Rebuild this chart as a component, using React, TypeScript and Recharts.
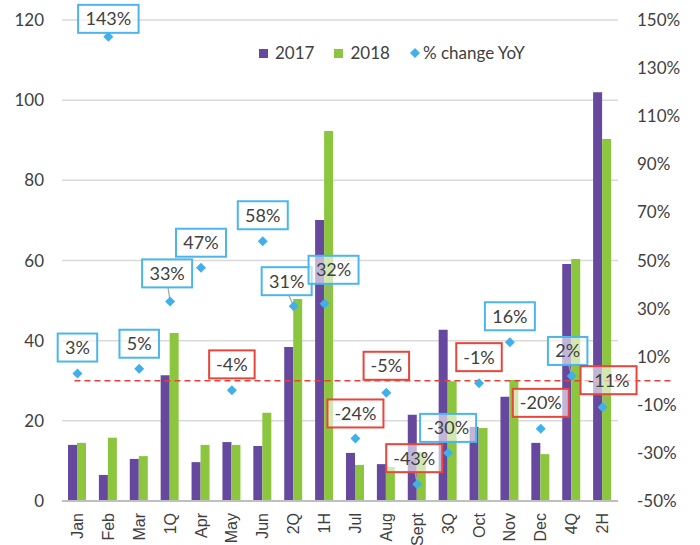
import React from "react";
import {
  ComposedChart,
  Bar,
  Scatter,
  XAxis,
  YAxis,
  CartesianGrid,
  ReferenceLine,
} from "recharts";

const CATEGORIES = ["Jan", "Feb", "Mar", "1Q", "Apr", "May", "Jun", "2Q", "1H", "Jul", "Aug", "Sept", "3Q", "Oct", "Nov", "Dec", "4Q", "2H"];
const SALES_2017 = [14.0, 6.5, 10.5, 31.4, 9.7, 14.7, 13.7, 38.4, 70.1, 12.0, 9.2, 21.5, 42.7, 18.5, 26.0, 14.5, 59.1, 102.0];
const SALES_2018 = [14.5, 15.8, 11.2, 41.9, 14.0, 14.0, 22.0, 50.4, 92.3, 9.0, 8.5, 12.2, 29.9, 18.2, 30.2, 11.7, 60.4, 90.3];
const YOY_CHANGE = [3, 143, 5, 33, 47, -4, 58, 31, 32, -24, -5, -43, -30, -1, 16, -20, 2, -11];
const LEFT_TICKS = [0, 20, 40, 60, 80, 100, 120];
const RIGHT_TICKS = [-50, -30, -10, 10, 30, 50, 70, 90, 110, 130, 150];

// label box nudges (box centre relative to the diamond), as moved by hand in the original
const LABEL_NUDGE: [number, number][] = [
  [0, -26], [0, -18], [0, -25], [-3, -28], [0, -25], [0, -26], [0, -26], [-7, -25], [9, -34],
  [0, -25], [0, -27], [-3, -26], [0, -25], [0, -26], [0, -26], [0, -26], [-4, -25], [6, -27],
];
const LEADER = new Set(["1Q", "2Q", "1H", "Sept", "4Q", "2H"]);
const BLUE_BOX = new Set(["3Q"]);

const PURPLE = "#66499e";
const GREEN = "#8cc63f";
const DIAMOND = "#41b0ea";
const BOX_BLUE = "#4cb6ec";
const BOX_RED = "#e8453c";
const TEXT = "#404040";

const data = CATEGORIES.map((name, i) => ({
  name,
  y2017: SALES_2017[i],
  y2018: SALES_2018[i],
  yoy: YOY_CHANGE[i],
}));

function PointWithLabel(props: any) {
  const { cx, cy, payload } = props;
  if (cx == null || cy == null) return null;
  const i = CATEGORIES.indexOf(payload.name);
  const value = YOY_CHANGE[i];
  const text = `${value}%`;
  const digits = String(Math.abs(value)).length;
  const w = 29 + digits * 10.5 + (value < 0 ? 6 : 0);
  const h = 28;
  const [dx, dy] = LABEL_NUDGE[i];
  const bx = cx + dx;
  const by = cy + dy;
  const border = value < 0 && !BLUE_BOX.has(payload.name) ? BOX_RED : BOX_BLUE;
  return (
    <g>
      {LEADER.has(payload.name) && (
        <line x1={bx + dx * -0.3} y1={by + h / 2} x2={cx} y2={cy} stroke="#a6a6a6" strokeWidth={1.2} />
      )}
      <rect
        x={bx - w / 2}
        y={by - h / 2}
        width={w}
        height={h}
        fill="#ffffff"
        fillOpacity={0.6}
        stroke={border}
        strokeWidth={2}
      />
      <text
        x={bx}
        y={by}
        dy="0.36em"
        textAnchor="middle"
        fill={TEXT}
        style={{ fontSize: 18, fontFamily: "Lato, sans-serif" }}
      >
        {text}
      </text>
      <polygon
        points={`${cx},${cy - 5} ${cx + 5},${cy} ${cx},${cy + 5} ${cx - 5},${cy}`}
        fill={DIAMOND}
      />
    </g>
  );
}

function RotatedTick({ x, y, payload }: any) {
  return (
    <text
      transform={`translate(${x},${y}) rotate(-90)`}
      textAnchor="end"
      dy="0.35em"
      fill={TEXT}
      style={{ fontSize: 16, fontFamily: "'Liberation Sans', Arial, sans-serif" }}
    >
      {payload.value}
    </text>
  );
}

// zero line runs from just left of Jan to past the right-hand axis labels
function DashedZero({ x1, y1, x2, y2 }: any) {
  return (
    <line
      x1={x1 - 3}
      y1={y1}
      x2={x2 + 70}
      y2={y2}
      stroke="#ea3f35"
      strokeWidth={1.6}
      strokeDasharray="6 4"
    />
  );
}

function ChartLegend() {
  const item = { display: "flex", alignItems: "center", marginRight: 20 } as const;
  return (
    <div
      style={{
        position: "absolute",
        top: 43,
        left: 259,
        display: "flex",
        fontFamily: "Lato, sans-serif",
        fontSize: 17,
        color: TEXT,
        lineHeight: "20px",
      }}
    >
      <div style={item}>
        <span style={{ width: 9, height: 9, background: PURPLE, marginRight: 7 }} />
        2017
      </div>
      <div style={item}>
        <span style={{ width: 9, height: 9, background: GREEN, marginRight: 7 }} />
        2018
      </div>
      <div style={item}>
        <svg width={10} height={10} style={{ marginRight: 3 }}>
          <polygon points="5,0 10,5 5,10 0,5" fill={DIAMOND} />
        </svg>
        % change YoY
      </div>
    </div>
  );
}

export default function App() {
  return (
    <div style={{ position: "absolute", left: 0, top: 0, width: 700, height: 545, background: "#fff" }}>
      <ComposedChart
        width={700}
        height={545}
        data={data}
        margin={{ top: 20, right: 0, bottom: 0, left: 0 }}
        barGap={0}
      >
        <CartesianGrid yAxisId="left" vertical={false} stroke="#d9d9d9" strokeWidth={1.5} />
        <XAxis
          dataKey="name"
          height={44}
          interval={0}
          tickLine={false}
          tickSize={0}
          tickMargin={12}
          axisLine={{ stroke: "#bfbfbf", strokeWidth: 2 }}
          tick={<RotatedTick />}
        />
        <YAxis
          yAxisId="left"
          width={62}
          domain={[0, 120]}
          ticks={LEFT_TICKS}
          axisLine={false}
          tickLine={false}
          tickSize={0}
          tickMargin={18}
          tick={{ fill: TEXT, fontSize: 17, fontFamily: "Lato, sans-serif" }}
        />
        <YAxis
          yAxisId="right"
          orientation="right"
          width={82}
          domain={[-50, 150]}
          ticks={RIGHT_TICKS}
          axisLine={false}
          tickLine={false}
          tickSize={0}
          tickMargin={19}
          tickFormatter={(v: number) => `${v}%`}
          tick={{ fill: TEXT, fontSize: 17, fontFamily: "Lato, sans-serif", textAnchor: "start" }}
        />
        <Bar yAxisId="left" dataKey="y2017" name="2017" fill={PURPLE} barSize={9} isAnimationActive={false} />
        <Bar yAxisId="left" dataKey="y2018" name="2018" fill={GREEN} barSize={9} isAnimationActive={false} />
        <ReferenceLine
          yAxisId="right"
          segment={[
            { x: CATEGORIES[0], y: 0 },
            { x: CATEGORIES[CATEGORIES.length - 1], y: 0 },
          ]}
          ifOverflow="visible"
          shape={<DashedZero />}
        />
        <Scatter
          yAxisId="right"
          dataKey="yoy"
          name="% change YoY"
          shape={<PointWithLabel />}
          isAnimationActive={false}
        />
      </ComposedChart>
      <ChartLegend />
    </div>
  );
}
